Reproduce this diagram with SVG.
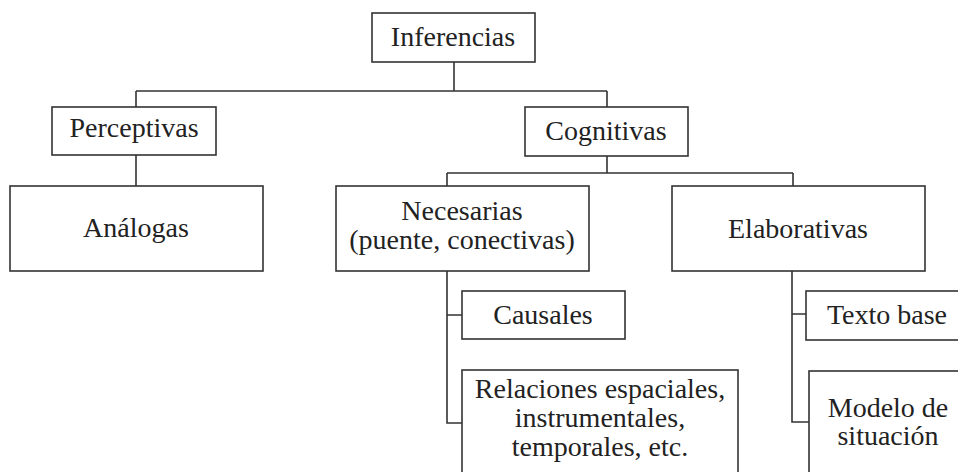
<svg xmlns="http://www.w3.org/2000/svg" width="958" height="472" viewBox="0 0 958 472">
<style>
.box{fill:#fff;stroke:#333;stroke-width:1.6}
.lbl{font-family:"Liberation Serif","Times New Roman",serif;font-size:28px;fill:#222;text-anchor:middle}
.con{fill:none;stroke:#333;stroke-width:1.6}
</style>
<rect width="958" height="472" fill="#fff"/>
<g id="connectors">
<path class="con" d="M454,62V91M136,91H607M136,91V107M607,91V107"/>
<path class="con" d="M136,155V186"/>
<path class="con" d="M607,156V173M447,173H793M447,173V186M793,173V186"/>
<path class="con" d="M447,271V423H462M447,315H462"/>
<path class="con" d="M792,271V422H809M792,314H806"/>
</g>
<g id="inferencias"><rect class="box" x="372" y="13" width="163" height="49"/><text class="lbl" x="453" y="46">Inferencias</text></g>
<g id="perceptivas"><rect class="box" x="52" y="107" width="164" height="48"/><text class="lbl" x="134" y="137">Perceptivas</text></g>
<g id="cognitivas"><rect class="box" x="525" y="107" width="163" height="49"/><text class="lbl" x="606" y="140">Cognitivas</text></g>
<g id="analogas"><rect class="box" x="10" y="186" width="253" height="85"/><text class="lbl" x="136" y="237">Análogas</text></g>
<g id="necesarias"><rect class="box" x="336" y="186" width="253" height="85"/><text class="lbl" x="462" y="220">Necesarias</text><text class="lbl" x="462" y="249">(puente, conectivas)</text></g>
<g id="elaborativas"><rect class="box" x="672" y="186" width="253" height="85"/><text class="lbl" x="798" y="238">Elaborativas</text></g>
<g id="causales"><rect class="box" x="462" y="291" width="163" height="48"/><text class="lbl" x="543" y="324">Causales</text></g>
<g id="relaciones"><rect class="box" x="462" y="370" width="276" height="120"/><text class="lbl" x="600" y="398">Relaciones espaciales,</text><text class="lbl" x="600" y="427">instrumentales,</text><text class="lbl" x="600" y="456">temporales, etc.</text></g>
<g id="texto-base"><rect class="box" x="806" y="291" width="163" height="49"/><text class="lbl" x="887" y="324">Texto base</text></g>
<g id="modelo"><rect class="box" x="809" y="371" width="160" height="120"/><text class="lbl" x="888" y="417">Modelo de</text><text class="lbl" x="888" y="445">situación</text></g>
</svg>
